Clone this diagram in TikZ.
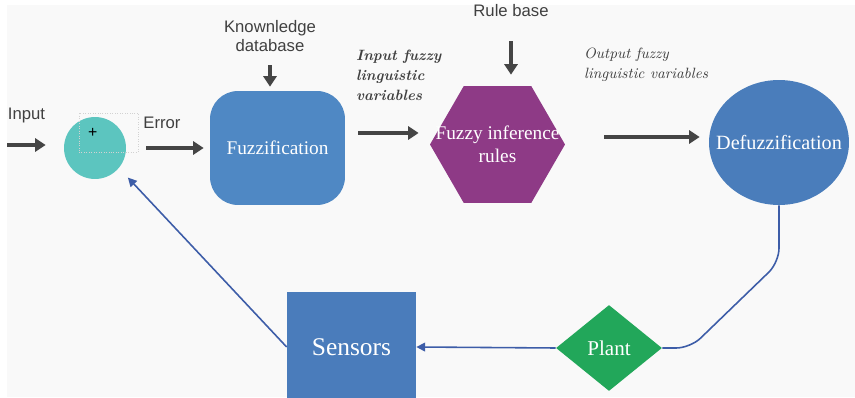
\documentclass[tikz,border=0pt]{standalone}
\usepackage{fontspec}
\usepackage{xcolor}
\usetikzlibrary{shapes.geometric, arrows.meta, calc}
\newfontfamily\labelfont{Liberation Sans}
\newfontfamily\blockfont{Liberation Serif}

\definecolor{bggray}{HTML}{F9F9F9}
\definecolor{sumteal}{HTML}{5CC5BF}
\definecolor{fuzzblue}{HTML}{4F88C4}
\definecolor{rulepurple}{HTML}{8E3A86}
\definecolor{defuzzblue}{HTML}{4A7DBB}
\definecolor{plantgreen}{HTML}{22A75A}
\definecolor{sensorblue}{HTML}{4A7CBB}
\definecolor{linkblue}{HTML}{3D5DA8}
\definecolor{arrgray}{HTML}{454545}
\definecolor{labgray}{HTML}{404040}

\begin{document}
\begin{tikzpicture}[
        x=0.02cm, y=-0.02cm,
        box/.style={text=white, font=\blockfont\fontsize{11}{13}\selectfont, align=center, inner sep=0pt},
        bigarr/.style={-{Triangle[length=6pt,width=7.5pt]}, line width=2pt, draw=arrgray},
        link/.style={line width=0.9pt, draw=linkblue, rounded corners=8},
        linkarr/.style={link, -{Triangle[length=5pt,width=5pt]}, fill=linkblue},
        sidelabel/.style={font=\labelfont\fontsize{9.5}{10.8}\selectfont, text=labgray, align=center},
        note/.style={font=\itshape\fontsize{8.5}{11.3}\selectfont, text=labgray, align=left},
    ]
        % Page and backdrop
        \useasboundingbox (0,0) rectangle (855,398);
        \fill[white] (0,0) rectangle (855,398);
        \fill[bggray] (7,5) rectangle (855,397);

        % Summing point
        \node[circle, fill=sumteal, minimum size=1.24cm, inner sep=0pt] (sum) at (95,148) {};
        \node[draw=gray!35, densely dotted, line width=0.4pt, minimum width=1.18cm,
              minimum height=0.78cm, text width=0.82cm, inner xsep=0.18cm, align=left,
              font=\labelfont\fontsize{9}{10}\selectfont] (plus) at (108.5,132.5) {+};

        % Controller blocks
        \node[box, fill=fuzzblue, rounded corners=0.56cm, minimum width=2.7cm,
              minimum height=2.28cm] (fuzz) at (277.5,148) {Fuzzification};
        \node[box, fill=rulepurple, regular polygon, regular polygon sides=6,
              minimum size=2.7cm,
              label={[box]center:Fuzzy inference\\rules}] (rules) at (497.5,144.5) {};
        \node[box, fill=defuzzblue, ellipse, minimum width=2.8cm, minimum height=2.5cm,
              label={[box, font=\blockfont\fontsize{11.5}{13}\selectfont]center:Defuzzification}] (defuzz) at (779,142.5) {};

        % Process and feedback
        \node[box, fill=plantgreen, diamond, minimum width=2.12cm, minimum height=1.72cm,
              font=\blockfont\fontsize{12}{14}\selectfont] (plant) at (609,348) {Plant};
        \node[box, fill=sensorblue, minimum width=2.58cm, minimum height=2.2cm,
              font=\blockfont\fontsize{14.5}{16}\selectfont] (sensors) at (351.5,347) {Sensors};

        % Labels
        \node[sidelabel] (input) at (26.5,115) {Input};
        \node[sidelabel] (error) at (162,123) {Error};
        \node[sidelabel] (kb) at (270,36.5) {Knownledge\\database};
        \node[sidelabel] (rb) at (511,11) {Rule base};
        \node[note, font=\bfseries\itshape\fontsize{8.5}{11.3}\selectfont, anchor=west] (infz) at (350,75)
            {Input fuzzy\\linguistic\\variables};
        \node[note, anchor=west] (outfz) at (578,65) {Output fuzzy\\linguistic variables};

        % Forward path
        \coordinate (inp) at (7,145);
        \draw[bigarr, shorten >=0.36cm] (inp) -- (inp -| sum.west);
        \draw[bigarr, shorten <=0.4cm, shorten >=0.12cm] (sum.east) -- (fuzz.west);
        \draw[bigarr, shorten <=0.26cm, shorten >=0.22cm]
            ([yshift=0.3cm]fuzz.east) -- ([yshift=0.3cm]fuzz.east -| rules.west);
        \draw[bigarr, shorten <=0.78cm, shorten >=0.18cm]
            ([yshift=0.15cm]rules.east) -- ([yshift=0.15cm]rules.east -| defuzz.west);
        \draw[bigarr, shorten <=0.14cm, shorten >=0.08cm] (kb.south) -- (kb.south |- fuzz.north);
        \draw[bigarr, shorten <=0.36cm, shorten >=0.22cm] (rb.south) -- (rb.south |- rules.north);

        % Plant loop
        \draw[link] (defuzz.south) -- ++(0,57) -- ($(plant.east)+(28,0)$) -- (plant.east);
        \draw[linkarr] (plant.west) -- (sensors.east);
        \draw[linkarr, shorten >=0.26cm] (sensors.west) -- (sum.-40);
\end{tikzpicture}
\end{document}
